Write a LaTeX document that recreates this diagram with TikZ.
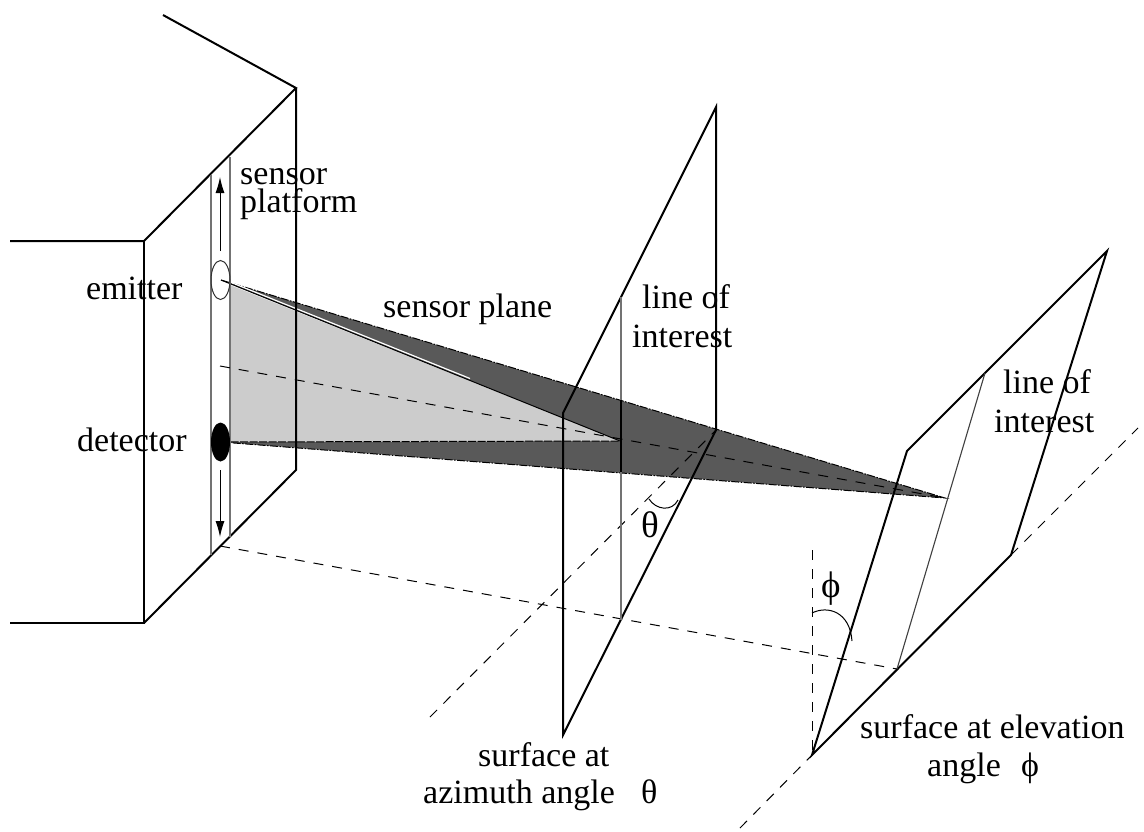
\documentclass[tikz,border=0pt]{standalone}
\usepackage{fontspec}
\usetikzlibrary{arrows.meta}
\setmainfont{Liberation Serif}
\begin{document}
\begin{tikzpicture}[x=1pt,y=-1pt,
  edge/.style={line width=2pt,black},
  thinline/.style={line width=1.1pt,black!55},
  dashline/.style={line width=1pt,black,dash pattern=on 10pt off 9pt},
  rim/.style={line width=1pt,black,dash pattern=on 8pt off 1.5pt on 1.5pt off 1.5pt},
  lbl/.style={anchor=base west,inner sep=0pt,font=\fontsize{34}{34}\selectfont},
  biglbl/.style={anchor=base west,inner sep=0pt,font=\fontsize{37}{37}\selectfont},
  arrowline/.style={-{Latex[length=16pt,width=9pt]},line width=1pt}]
\useasboundingbox (0,0) rectangle (1144,831);
\fill[white] (0,0) rectangle (1144,831);
% named points
\coordinate (E) at (221,280);
\coordinate (D) at (221,442);
\coordinate (P) at (620,441);
\coordinate (Q) at (945,498);
% sensor plane
\fill[black!65] (E) -- (Q) -- (D) -- (P) -- cycle;
\fill[black!20] (230,285) -- (P) -- (230,442) -- cycle;
\draw[rim] (E) -- (Q) -- (D);
\draw[rim] (230,285) -- (230,442);
\draw[white,line width=1.2pt] (230,282) -- (470,378.5);
\draw[line width=1pt,black] (E) -- (P);
\draw[line width=1pt,black,dash pattern=on 8pt off 1.5pt] (D) -- (P);
% box
\draw[edge] (163,15) -- (296,88) -- (144,241) -- (10,241);
\draw[edge] (144,241) -- (144,623) -- (10,623);
\draw[edge] (144,623) -- (296,470) -- (296,88);
% strip
\draw[thinline] (211,175) -- (211,555);
\draw[thinline] (230,157) -- (230,537);
\draw[arrowline] (220,251) -- (220,177);
\draw[arrowline] (220,470) -- (220,537);
\draw[line width=1pt,black!80] (220.5,280) ellipse [x radius=9.5,y radius=19.5];
\fill[black] (220.5,442) ellipse [x radius=9.5,y radius=19.5];
% dashed guides
\draw[dashline] (220,366) -- (Q);
\draw[dashline] (220,546) -- (897,669);
\draw[dashline] (430,717) -- (716,430);
\draw[dashline] (812,550) -- (812,755);
\draw[dashline] (740,828) -- (812,755);
\draw[dashline] (1011,555) -- (1138,428);
% middle plane
\draw[edge] (563,413) -- (716,107) -- (716,430) -- (563,735) -- cycle;
\draw[thinline] (621,297) -- (621,620);
\draw[line width=1.8pt,black] (621,400) -- (621,472);
% right plane
\draw[edge] (907,451) -- (1107,251) -- (1011,555) -- (812,755) -- cycle;
\draw[line width=1.1pt,black!75] (985,373) -- (897,669);
% angle arcs
\draw[line width=1pt] (649,499) .. controls (656,510) and (672,512) .. (678,500);
\draw[line width=1pt] (812,613) .. controls (828,605) and (850,612) .. (852,641);
% labels
\node[lbl] (t1) at (240,184) {sensor};
\node[lbl] (t2) at (240,212) {platform};
\node[lbl] (t3) at (86,299) {emitter};
\node[lbl] (t4) at (77,451) {detector};
\node[lbl] (t5) at (383,317) {sensor plane};
\node[lbl] (t6) at (642,308) {line of};
\node[lbl] (t7) at (632,347) {interest};
\node[lbl] (t8) at (1003,393) {line of};
\node[lbl] (t9) at (994,432) {interest};
\node[lbl] (t10) at (478,766) {surface at};
\node[lbl] (t11) at (423,803) {azimuth angle};
\node[lbl] (t12) at (860,738) {surface at elevation};
\node[lbl] (t13) at (927,776) {angle};
\node[lbl] (t14) at (641,803) {θ};
\node[lbl] (t15) at (1021,776) {ϕ};
\node[biglbl] (t16) at (641,537) {θ};
\node[biglbl] (t17) at (821,597) {ϕ};
\end{tikzpicture}
\end{document}
